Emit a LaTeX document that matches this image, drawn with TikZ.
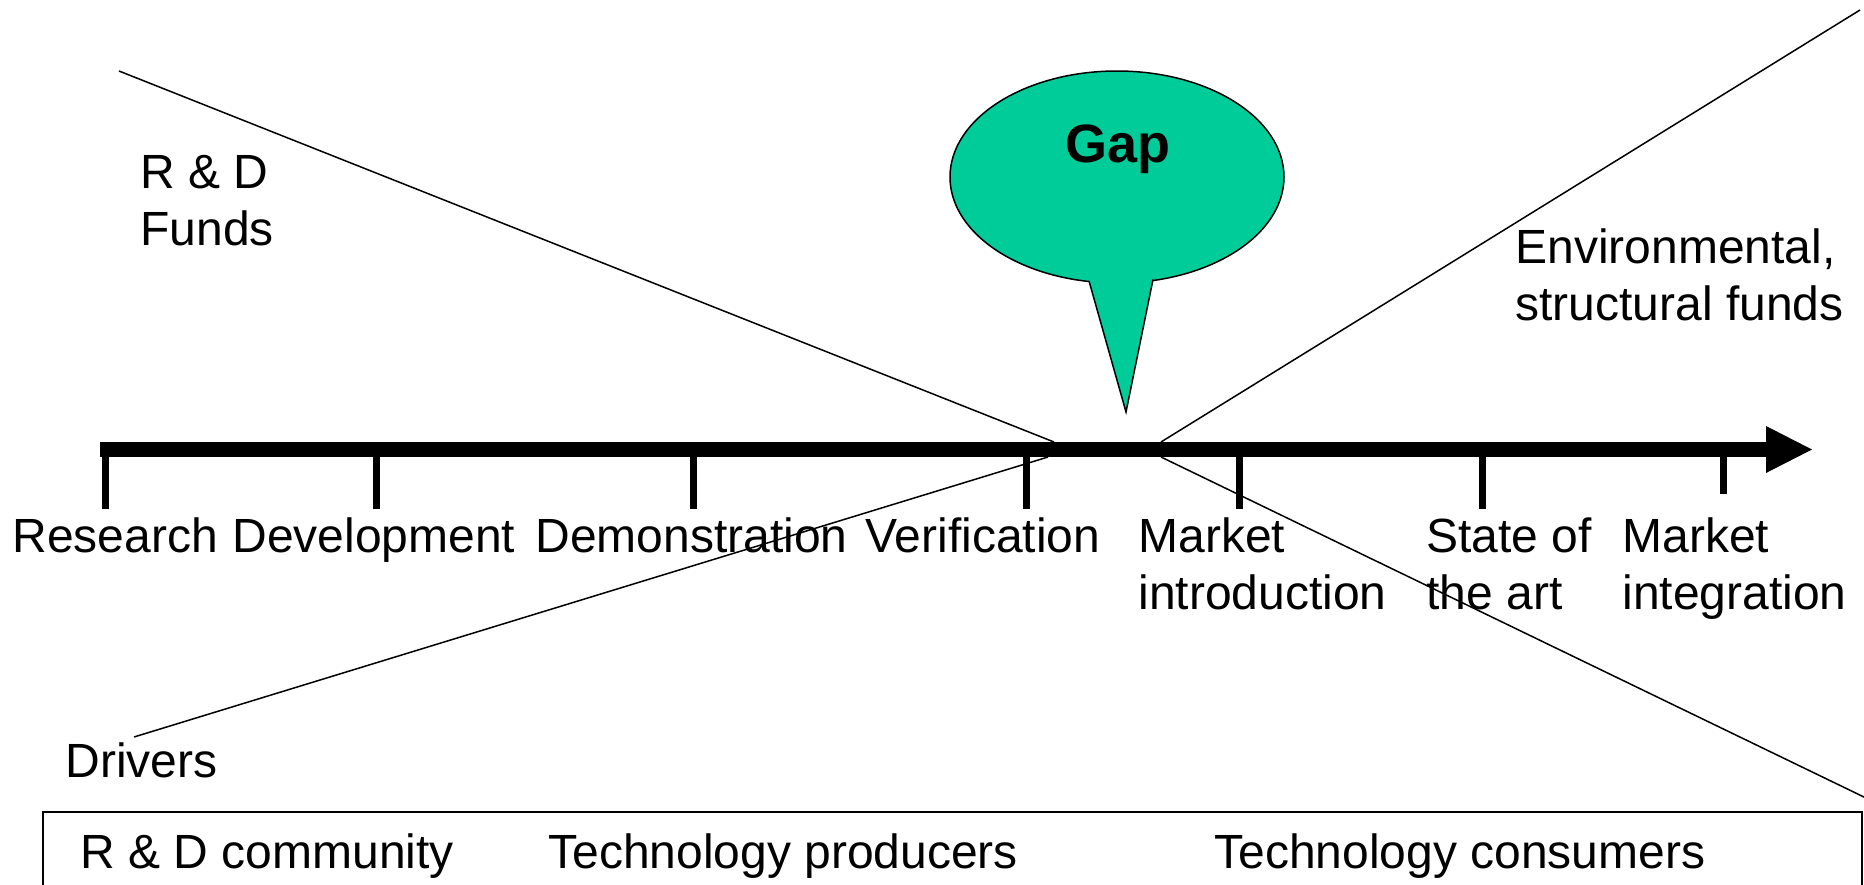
\documentclass[tikz,border=0pt]{standalone}
\usepackage{fontspec}
\setmainfont{Liberation Sans}
\usetikzlibrary{shapes.geometric}
\definecolor{gapgreen}{RGB}{0,204,153}
\newcommand\stacklabel[2]{\begin{tabular}[t]{@{}l@{}}#1\\#2\end{tabular}}
\begin{document}
\begin{tikzpicture}[x={(0.5pt,0)}, y={(0,-0.5pt)},
  lbl/.style={inner sep=0pt, anchor=base west, font=\fontsize{24}{28.5}\selectfont},
  thinline/.style={line width=0.75pt},
  tickmark/.style={line width=3.5pt},
  shaft/.style={line width=7.5pt}]
\useasboundingbox (0,0) rectangle (1864,884);
\clip (0,0) rectangle (1864,884);

% funding and driver lines
\coordinate (rdStart) at (119,71);
\coordinate (rdEnd) at (1054,442);
\coordinate (drvStart) at (134,737);
\coordinate (drvEnd) at (1048,457);
\coordinate (envStart) at (1161,442);
\coordinate (envEnd) at (1860,10);
\coordinate (dnStart) at (1161,457);
\coordinate (dnEnd) at (1866,798);
\draw[thinline] (rdStart) -- (rdEnd);
\draw[thinline] (drvStart) -- (drvEnd);
\draw[thinline] (envStart) -- (envEnd);
\draw[thinline] (dnStart) -- (dnEnd);

% time axis
\coordinate (axStart) at (100,449.5);
\coordinate (axEnd) at (1768,449.5);
\draw[shaft] (axStart) -- (axEnd);
\coordinate (headTop) at (1766,426);
\coordinate (headTip) at (1812,449.5);
\coordinate (headBot) at (1766,473);
\fill (headTop) -- (headTip) -- (headBot) -- cycle;

% stage ticks
\foreach \n/\x/\b in {t1/105/509, t2/376/509, t3/693/509, t4/1026/509, t5/1239/509, t6/1482/509, t7/1723/494}{
  \coordinate (\n a) at (\x,449.5);
  \coordinate (\n b) at (\x,\b);
  \draw[tickmark] (\n a) -- (\n b);
}

% stage labels
\node[lbl] (research) at (12,552) {Research};
\node[lbl] (development) at (232,552) {Development};
\node[lbl] (demonstration) at (535,552) {Demonstration};
\node[lbl] (verification) at (865,552) {Verification};
\node[lbl] (marketintro) at (1138,552) {\stacklabel{Market}{introduction}};
\node[lbl] (stateart) at (1426,552) {\stacklabel{State of}{the art}};
\node[lbl] (marketint) at (1622,552) {\stacklabel{Market}{integration}};

% side labels
\node[lbl] (rdfunds) at (140,188) {\stacklabel{R \& D}{Funds}};
\node[lbl] (envfunds) at (1515,263) {\stacklabel{Environmental,}{structural funds}};
\node[lbl] (drivers) at (65,777) {Drivers};

% gap callout
\node[ellipse, draw, thinline, fill=gapgreen, inner sep=0pt,
      minimum width=167pt, minimum height=106pt] (bubble) at (1117,177) {};
\coordinate (ptrL) at (1089,281);
\coordinate (ptrR) at (1153,279.5);
\coordinate (ptrTip) at (1126,412);
\fill[gapgreen] (ptrL) -- (1089,262) -- (1153,262) -- (ptrR) -- (ptrTip) -- cycle;
\draw[thinline, line join=miter] (ptrL) -- (ptrTip) -- (ptrR);
\node[inner sep=0pt, anchor=base, font=\fontsize{27}{32}\selectfont\bfseries] (gap) at (1118,162) {Gap};

% actors box
\coordinate (boxBL) at (43,900);
\coordinate (boxTL) at (43,812);
\coordinate (boxTR) at (1862,812);
\coordinate (boxBR) at (1862,900);
\draw[line width=1pt] (boxBL) -- (boxTL) -- (boxTR) -- (boxBR);
\node[lbl] (rdcomm) at (80,868) {R \& D community};
\node[lbl] (producers) at (548,868) {Technology producers};
\node[lbl] (consumers) at (1214,868) {Technology consumers};
\end{tikzpicture}
\end{document}
